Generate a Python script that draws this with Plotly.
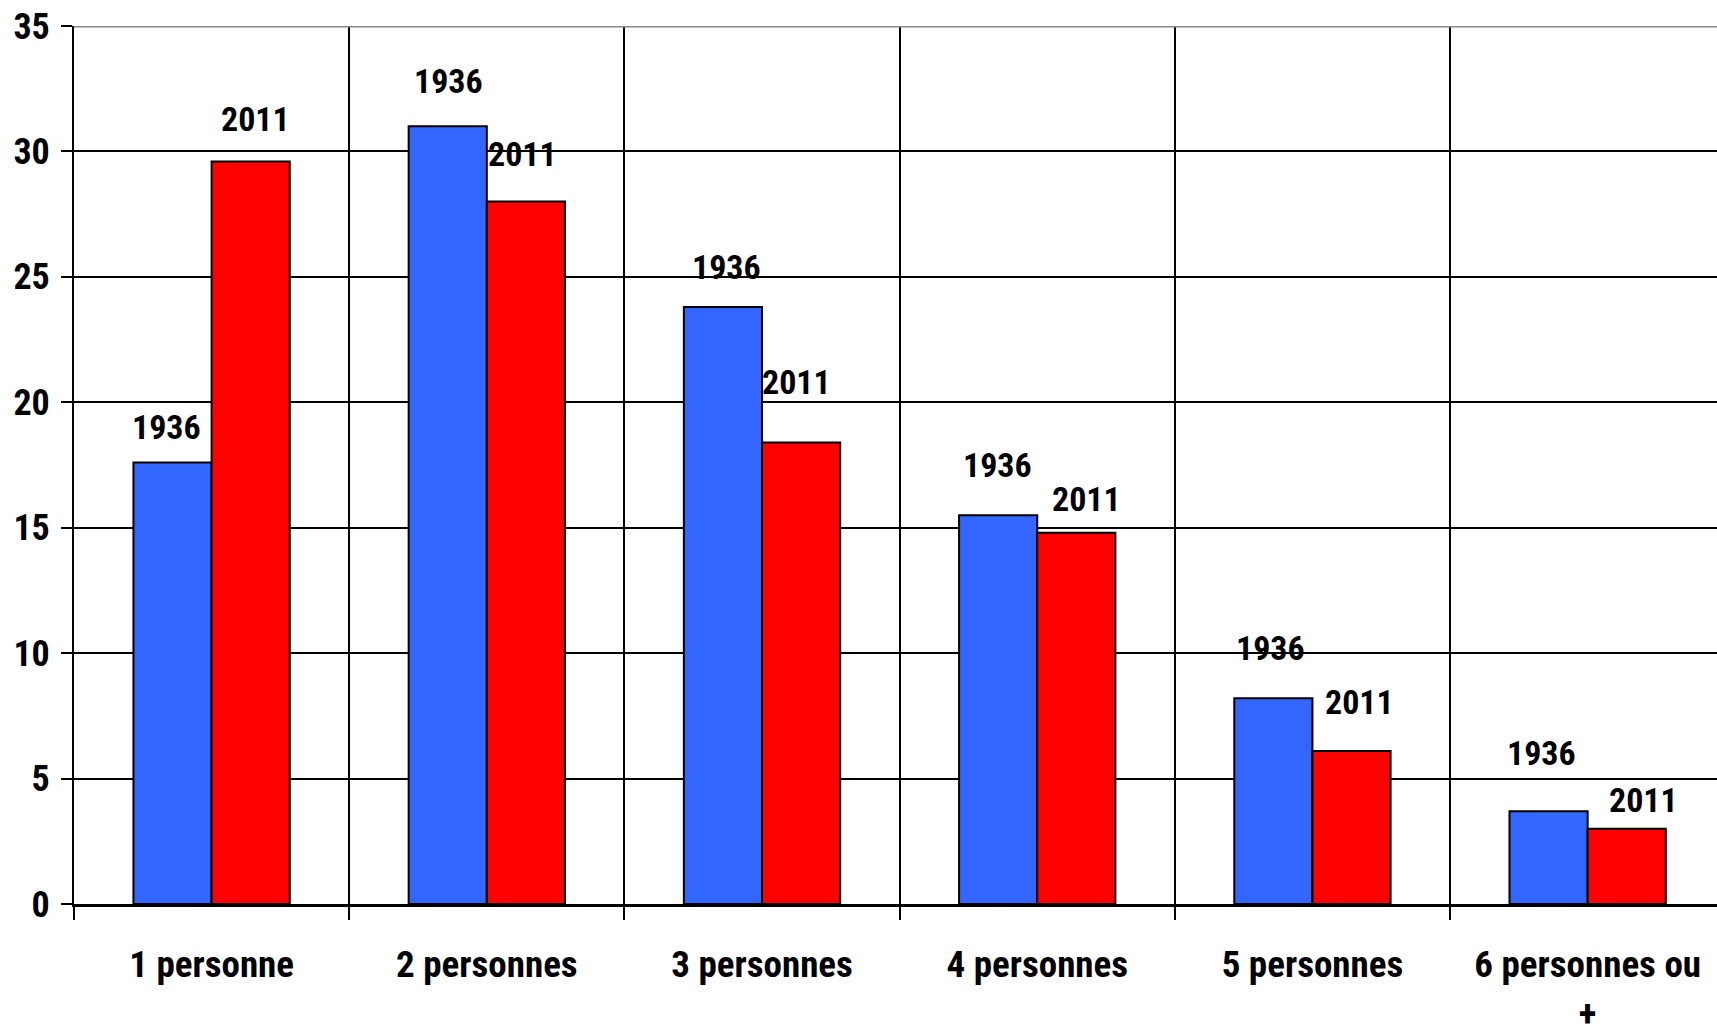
import plotly.graph_objects as go

categories = ["1 personne", "2 personnes", "3 personnes", "4 personnes", "5 personnes", "6 personnes ou<br>+"]
series_names = ["1936", "2011"]
values_1936 = [17.6, 31.0, 23.8, 15.5, 8.2, 3.7]
values_2011 = [29.6, 28.0, 18.4, 14.8, 6.1, 3.0]
# label heights (data units) as placed in the original chart
label_y_1936 = [19.0, 32.8, 25.4, 17.5, 10.2, 6.0]
label_y_2011 = [31.3, 29.9, 20.8, 16.15, 8.07, 4.15]
y_ticks = [0, 5, 10, 15, 20, 25, 30, 35]

FONT = "Liberation Sans Narrow, Arial Narrow, Roboto Condensed, Liberation Sans, sans-serif"

fig = go.Figure()
fig.add_trace(go.Bar(x=categories, y=values_1936, name=series_names[0],
                     marker=dict(color="#3366FF", line=dict(color="black", width=2))))
fig.add_trace(go.Bar(x=categories, y=values_2011, name=series_names[1],
                     marker=dict(color="#FF0000", line=dict(color="black", width=2))))

label_xshift_1936 = [-45, -38, -36, -40, -42, -46]
label_xshift_2011 = [44, 36, 34, 49, 47, 56]
for i, c in enumerate(categories):
    fig.add_annotation(x=c, y=label_y_1936[i], text="<b>" + series_names[0] + "</b>", showarrow=False,
                       xshift=label_xshift_1936[i], font=dict(size=34, color="black", family=FONT))
    fig.add_annotation(x=c, y=label_y_2011[i], text="<b>" + series_names[1] + "</b>", showarrow=False,
                       xshift=label_xshift_2011[i], font=dict(size=34, color="black", family=FONT))

fig.add_shape(type="line", xref="x domain", yref="y", x0=0, x1=1, y0=35, y1=35,
              line=dict(color="#888888", width=3), layer="above")

fig.update_layout(
    width=1717, height=1033,
    margin=dict(l=74, r=0, t=26, b=129),
    plot_bgcolor="white", paper_bgcolor="white",
    showlegend=False,
    barmode="group", bargap=0.432, bargroupgap=0,
    font=dict(family=FONT, size=34, color="black"),
    xaxis=dict(
        range=[-0.5, 5.47], tickson="boundaries", ticks="outside", ticklen=13, tickwidth=2,
        tickcolor="black", showgrid=True, gridcolor="black", gridwidth=2,
        showline=True, linecolor="black", linewidth=3, automargin=False,
        tickfont=dict(size=37, family=FONT, color="black", weight="bold"),
        ticklabelstandoff=26,
    ),
    yaxis=dict(
        range=[0, 35], tickvals=y_ticks, ticks="outside", ticklen=11, tickwidth=2,
        tickcolor="black", showgrid=True, gridcolor="black", gridwidth=2,
        showline=True, linecolor="black", linewidth=2, zeroline=False, automargin=False,
        tickfont=dict(size=36, family=FONT, color="black", weight="bold"),
        ticklabelstandoff=4,
    ),
)

fig.write_html("out.html", config={"displayModeBar": False},
               post_script="document.body.style.margin='0';document.body.style.overflow='hidden';")
